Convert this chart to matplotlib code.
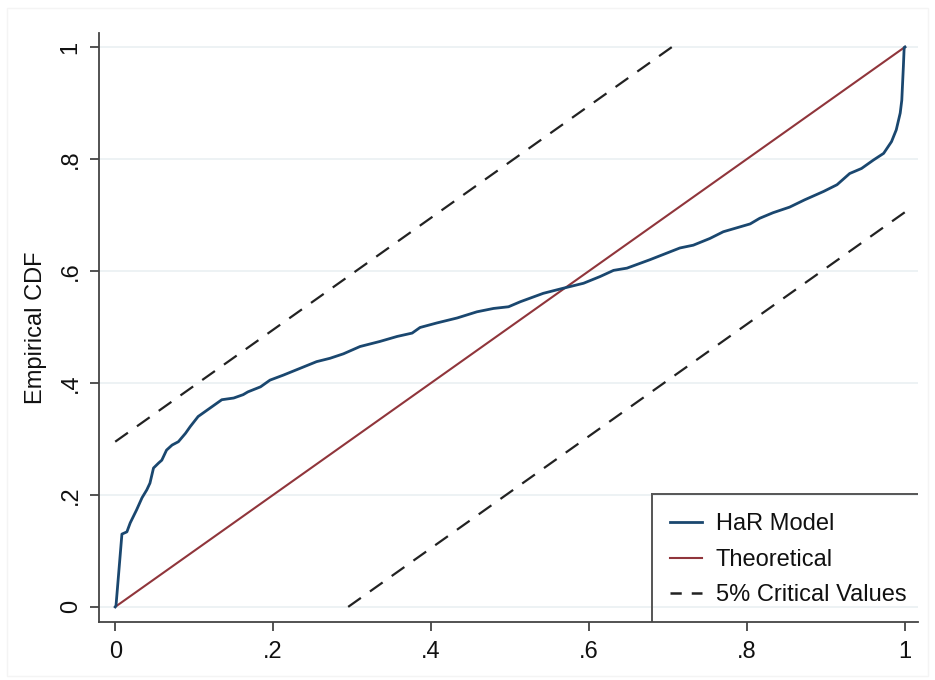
import numpy as np
import matplotlib.pyplot as plt
from matplotlib.lines import Line2D
from matplotlib.patches import Rectangle

plt.rcParams['font.family'] = ['Liberation Sans', 'DejaVu Sans']

# empirical CDF of the HaR model
har_x = [0.0, 0.001, 0.0085, 0.0148, 0.019, 0.027, 0.034, 0.040, 0.044, 0.0485,
         0.055, 0.059, 0.065, 0.072, 0.080, 0.089, 0.095, 0.105, 0.120, 0.135,
         0.150, 0.162, 0.168, 0.184, 0.196, 0.213, 0.234, 0.255, 0.272, 0.289,
         0.310, 0.335, 0.357, 0.376, 0.386, 0.407, 0.433, 0.458, 0.479, 0.498,
         0.513, 0.542, 0.567, 0.593, 0.614, 0.631, 0.648, 0.677, 0.715, 0.732,
         0.753, 0.770, 0.787, 0.804, 0.816, 0.833, 0.854, 0.873, 0.897, 0.914,
         0.930, 0.945, 0.960, 0.973, 0.983, 0.989, 0.994, 0.996, 0.998, 0.999, 1.0]
har_y = [0.0, 0.002, 0.130, 0.134, 0.150, 0.173, 0.195, 0.209, 0.221, 0.248,
         0.257, 0.262, 0.280, 0.289, 0.295, 0.310, 0.322, 0.340, 0.355, 0.370,
         0.373, 0.379, 0.384, 0.393, 0.405, 0.414, 0.426, 0.438, 0.444, 0.452,
         0.465, 0.474, 0.483, 0.489, 0.499, 0.507, 0.516, 0.527, 0.533, 0.536,
         0.545, 0.560, 0.569, 0.578, 0.590, 0.601, 0.605, 0.620, 0.641, 0.646,
         0.658, 0.670, 0.677, 0.684, 0.694, 0.704, 0.714, 0.727, 0.742, 0.754,
         0.774, 0.783, 0.798, 0.810, 0.831, 0.852, 0.882, 0.905, 0.965, 0.999, 1.0]

theo = [0.0, 1.0]
crit = 0.295  # 5% critical band half-width

ticks = [0, 0.2, 0.4, 0.6, 0.8, 1]
tick_labels = ['0', '.2', '.4', '.6', '.8', '1']

fs = 17

fig = plt.figure(figsize=(9.35, 6.8), dpi=100)
fig.patches.append(Rectangle((0.008, 0.006), 0.984, 0.982, transform=fig.transFigure,
                             fill=False, edgecolor='#f4f4f4', lw=1))
ax = fig.add_axes([0.1059, 0.0853, 0.8759, 0.8662])

ax.set_xlim(-0.0205, 1.0165)
ax.set_ylim(-0.027, 1.025)

for t in ticks:
    ax.axhline(t, color='#eaf0f2', lw=1.2, zorder=0)

ax.plot(har_x, har_y, color='#1a476f', lw=2, zorder=3)
ax.plot(theo, theo, color='#90353b', lw=1.5, zorder=2)
ax.plot([0, 1 - crit], [crit, 1], color='#222222', lw=1.6, dashes=(7, 5), zorder=2)
ax.plot([crit, 1], [0, 1 - crit], color='#222222', lw=1.6, dashes=(7, 5), zorder=2)

for side in ['top', 'right']:
    ax.spines[side].set_visible(False)
for side in ['left', 'bottom']:
    ax.spines[side].set_color('#444444')
    ax.spines[side].set_linewidth(1.3)

ax.set_xticks(ticks)
ax.set_xticklabels(tick_labels)
ax.set_yticks(ticks)
ax.set_yticklabels(tick_labels, rotation=90, va='center')
ax.tick_params(axis='both', direction='out', length=6.5, width=1.3, color='#444444',
               labelsize=fs, labelcolor='#111111')
ax.tick_params(axis='x', pad=7.5)
ax.tick_params(axis='y', pad=6)
ax.set_ylabel('Empirical CDF', fontsize=fs, color='#111111', labelpad=9)

# legend box: only its top and left edges show inside the plot area
bx, by = 0.675, 0.217
ax.add_line(Line2D([bx, bx], [0, by], transform=ax.transAxes, color='#555555', lw=1.4))
ax.add_line(Line2D([bx, 1.0], [by, by], transform=ax.transAxes, color='#555555', lw=1.4))

handles = [Line2D([], [], color='#1a476f', lw=2),
           Line2D([], [], color='#90353b', lw=1.5),
           Line2D([], [], color='#222222', lw=1.8, dashes=(4.5, 4))]
ax.legend(handles, ['HaR Model', 'Theoretical', '5% Critical Values'],
          loc='lower left', bbox_to_anchor=(0.678, 0.0), frameon=False,
          fontsize=fs, handlelength=1.35, handletextpad=0.6, labelspacing=0.57,
          borderpad=0.4, borderaxespad=0.26, labelcolor='#111111')

fig.savefig('out.png', dpi=100)
